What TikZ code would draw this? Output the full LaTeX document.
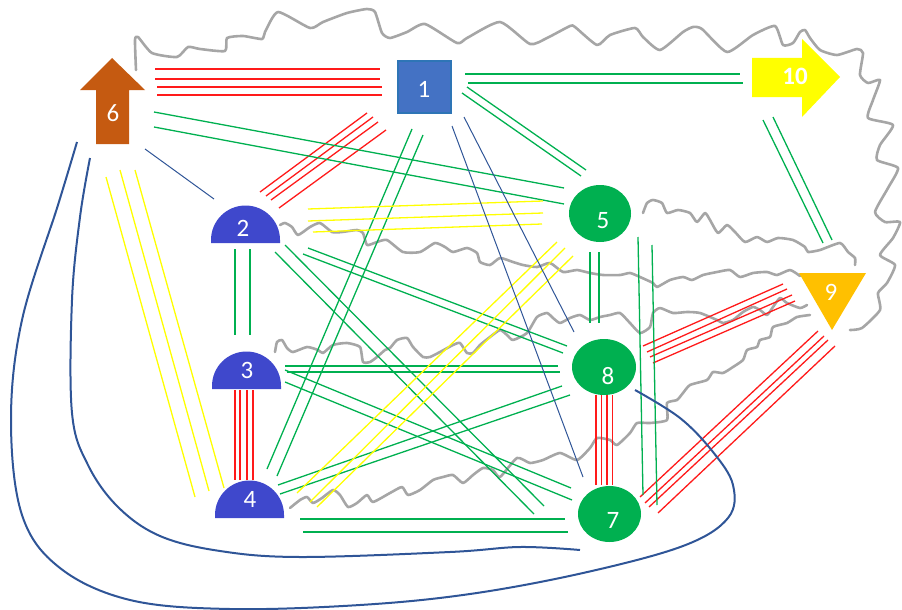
\documentclass[tikz,border=0pt]{standalone}
\usepackage{fontspec}
\setmainfont{Carlito}
\usetikzlibrary{shapes.geometric}
\definecolor{grn}{HTML}{00B050}
\definecolor{yel}{HTML}{FFFF00}
\definecolor{rd}{HTML}{FF1A1A}
\definecolor{dblue}{HTML}{2F5597}
\definecolor{wavegray}{HTML}{A6A6A6}
\definecolor{sqfill}{HTML}{4472C4}
\definecolor{sqborder}{HTML}{2E75B6}
\definecolor{halfblue}{HTML}{3F48CC}
\definecolor{orng}{HTML}{C55A11}
\definecolor{gold}{HTML}{FFC000}
\tikzset{
  rl/.style={draw=rd, line width=1.3pt},
  gl/.style={draw=grn, line width=1.3pt},
  yl/.style={draw=yel, line width=1.3pt},
  bl/.style={draw=dblue, line width=1pt},
  bigcurve/.style={draw=dblue, line width=2pt},
  wave/.style={draw=wavegray, line width=2.6pt, line join=round, line cap=round},
  lbl/.style={text=white, font=\fontsize{25}{25}\selectfont, inner sep=0pt},
  oval/.style={ellipse, fill=grn, inner sep=0pt},
}
\begin{document}
\begin{tikzpicture}[x=1pt,y=-1pt]
\useasboundingbox (0,0) rectangle (902,610);
% ---------- gray freehand waves ----------
\draw[wave] plot[smooth, tension=0.35] coordinates {(136,70) (135,40) (138,37) (152,53) (177,57) (188,47) (200,49) (225,51) (227,38) (243,36) (262,39) (265,32) (278,12) (310,28) (323,22) (347,13) (367,9) (375,12) (382,33) (390,38) (407,32) (425,24) (457,43) (467,38) (500,22) (530,44) (547,38) (570,26) (575,27) (597,45) (610,35) (635,28) (643,37) (660,50) (683,32) (693,27) (702,29) (727,52) (753,35) (775,26) (783,45) (793,43) (800,32) (805,30) (810,38) (820,50) (837,55) (857,49) (863,53) (860,75) (868,83) (880,80) (873,100) (868,118) (893,125) (880,145) (877,160) (898,168) (888,188) (875,212) (885,222) (900,222) (893,238) (880,255) (895,265) (887,283) (878,293) (880,310) (862,328) (850,330)};
\draw[wave] plot[smooth, tension=0.35] coordinates {(643,213) (647,203) (653,200) (662,203) (667,213) (678,210) (690,213) (697,222) (705,213) (710,220) (718,233) (727,225) (735,232) (745,242) (757,237) (767,242) (778,238) (793,240) (805,247) (808,252) (820,250) (840,243) (848,252) (855,258) (855,265)};
\draw[wave] plot[smooth, tension=0.35] coordinates {(280,225) (285,223) (292,227) (298,235) (310,227) (320,223) (332,232) (342,232) (357,230) (363,233) (367,245) (377,242) (387,240) (403,252) (420,252) (435,243) (445,247) (453,252) (467,248) (477,253) (480,262) (490,265) (500,258) (513,262) (523,265) (537,267) (550,263) (563,272) (577,270) (590,273) (603,275) (620,275) (630,273) (640,277) (653,283) (657,287) (670,280) (683,277) (692,280) (703,275) (717,272) (730,270) (740,277) (753,273) (767,272) (777,275) (790,270) (800,276)};
\draw[wave] plot[smooth, tension=0.35] coordinates {(275,352) (277,342) (282,340) (287,348) (293,352) (307,347) (318,350) (323,353) (333,345) (347,343) (360,347) (363,362) (370,362) (377,357) (385,350) (390,348) (397,340) (407,338) (413,347) (423,357) (430,357) (440,352) (453,345) (460,343) (467,353) (473,353) (480,345) (490,337) (500,330) (507,335) (513,340) (527,333) (537,317) (547,313) (553,318) (560,323) (570,318) (580,315) (590,320) (600,317) (610,315) (620,313) (630,323) (640,333) (650,327) (653,313) (660,308) (673,313) (687,312) (700,313) (717,320) (723,323) (733,320) (743,312) (753,307) (760,310) (767,315) (773,307) (780,298) (787,303) (800,308) (807,305)};
\draw[wave] plot[smooth, tension=0.35] coordinates {(290,508) (300,500) (307,497) (313,503) (322,498) (333,490) (340,495) (348,507) (357,503) (367,495) (373,502) (390,493) (402,487) (408,495) (420,490) (433,480) (443,477) (453,475) (463,483) (473,475) (483,468) (493,470) (500,477) (517,458) (530,463) (543,460) (560,453) (577,460) (590,448) (597,438) (610,440) (617,445) (630,433) (637,423) (650,423) (667,420) (667,403) (677,400) (683,393) (690,385) (707,380) (713,372) (723,373) (733,367) (743,360) (747,350) (757,347) (760,340) (770,337) (773,327) (787,323) (797,317) (810,315)};
% ---------- red bundles ----------
\draw[rl] (155,69)--(380,69) (155,79)--(380,79) (157,87)--(382,87) (157,95)--(382,95);
\draw[rl] (260,192)--(367,113) (266,196)--(373,117) (271,200)--(378,122) (279,208)--(386,130);
\draw[rl] (235,390)--(235,480) (240,390)--(240,480) (247,390)--(247,480) (253,390)--(253,480);
\draw[rl] (596,395)--(596,485) (601.5,395)--(601.5,485) (607,395)--(607,485) (612.5,395)--(612.5,485);
\draw[rl] (643,346)--(783,284) (647,352)--(787,289) (650,357)--(792,295) (653,363)--(795,301);
\draw[rl] (640,497)--(818,331) (645,503)--(824,336) (649,507)--(828,340) (658,513)--(835,346);
% ---------- green bundles ----------
\draw[gl] (465,74)--(740,74) (468,83)--(743,83);
\draw[gl] (467,87)--(586,170) (462,93)--(581,176);
\draw[gl] (154,112)--(564,188) (154,127)--(564,204);
\draw[gl] (412,129)--(267,469) (423,135)--(277,476);
\draw[gl] (235,249)--(235,335) (250,249)--(250,335);
\draw[gl] (308,248)--(567,346) (303,254)--(563,353);
\draw[gl] (285,245)--(544,506) (275,252)--(534,514);
\draw[gl] (285,366)--(558,366) (287,372)--(560,372);
\draw[gl] (285,370)--(571,488) (285,382)--(572,500);
\draw[gl] (278,485)--(562,386) (280,494)--(570,395);
\draw[gl] (300,519)--(565,519) (303,532)--(568,532);
\draw[gl] (590,252)--(590,323) (599,252)--(599,323);
\draw[gl] (638,237)--(643,495) (652,245)--(657,505);
\draw[gl] (763,120)--(823,243) (773,117)--(832,240);
% ---------- yellow bundles ----------
\draw[yl] (106,177)--(195,497) (120,170)--(209,491) (135,170)--(224,488);
\draw[yl] (308,209)--(543,201) (308,221)--(543,213) (313,232)--(542,224);
\draw[yl] (297,493)--(557,242) (310,502)--(565,248) (317,507)--(573,256);
% ---------- blue lines ----------
\draw[bl] (145,149)--(214,199);
\draw[bl] (464,117)--(574,332);
\draw[bl] (452,126)--(583,477);
\draw[bigcurve] plot[smooth, tension=0.6] coordinates {(77,142) (58,205) (22,320) (11,420) (22,515) (60,568) (130,600) (230,609) (360,605) (470,594) (583,573) (683,546) (728,518) (733,485) (713,452) (680,418) (635,390)};
\draw[bigcurve] plot[smooth, tension=0.6] coordinates {(90,158) (80,217) (72,300) (72,413) (88,465) (118,507) (160,536) (220,551) (300,557) (450,552) (520,547) (580,550)};
% ---------- nodes ----------
\node[draw=sqborder, line width=2pt, fill=sqfill, minimum width=53pt, minimum height=52pt, inner sep=0pt] (n1) at (424.5,87) {};
\node[lbl] (t1) at (424,89) {1};
\fill[orng] (96,144) -- (96,90) -- (80,90) -- (112,58) -- (145,90) -- (129,90) -- (129,144) -- cycle;
\node[lbl] (n6) at (113,113) {6};
\fill[yel] (752,58) -- (802,58) -- (802,39) -- (840,77) -- (802,117) -- (802,97) -- (752,97) -- cycle;
\node[lbl, font=\fontsize{25}{25}\selectfont\bfseries] (n10) at (795,76) {10};
\fill[gold] (799,273) -- (866,273) -- (832,330) -- cycle;
\node[lbl] (n9) at (831,292) {9};
\node[oval, minimum width=62pt, minimum height=57pt] (n5) at (600,213.5) {};
\node[lbl] (t5) at (603,221) {5};
\node[oval, minimum width=64pt, minimum height=56pt] (n8) at (604,367) {};
\node[lbl] (t8) at (608,376) {8};
\node[oval, minimum width=63pt, minimum height=56pt] (n7) at (609.5,514) {};
\node[lbl] (t7) at (613,520) {7};
\fill[halfblue] (211,243) -- (211,240) arc[start angle=180, end angle=0, radius=34.5pt] -- (280,243) -- cycle;
\node[lbl] (n2) at (243,228) {2};
\fill[halfblue] (212,389) -- (212,386) arc[start angle=180, end angle=0, radius=34.5pt] -- (281,389) -- cycle;
\node[lbl] (n3) at (247,370) {3};
\fill[halfblue] (215,518) -- (215,515) arc[start angle=180, end angle=0, radius=34.5pt] -- (284,518) -- cycle;
\node[lbl] (n4) at (250,499) {4};
\end{tikzpicture}
\end{document}
